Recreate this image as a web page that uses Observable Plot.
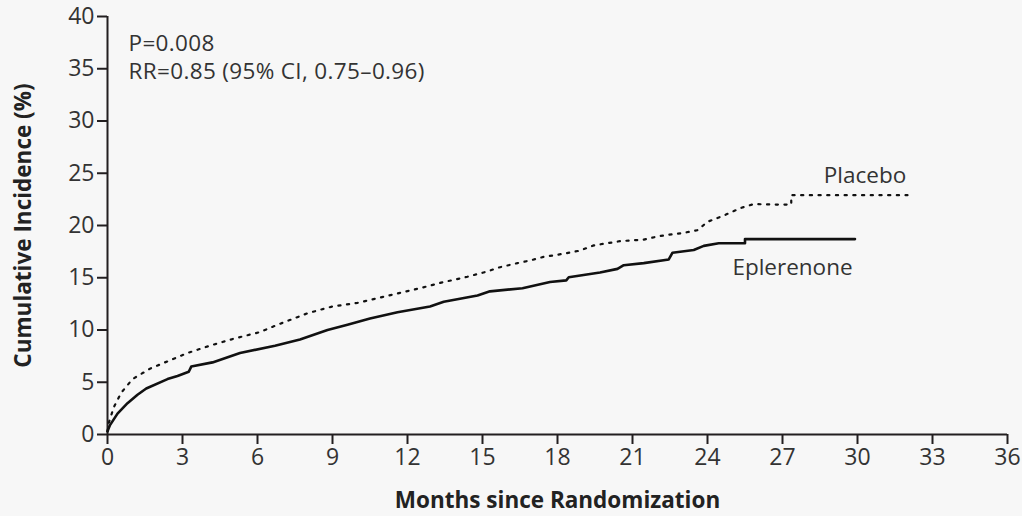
<!DOCTYPE html>
<html>
<head>
<meta charset="utf-8">
<script src="https://cdn.jsdelivr.net/npm/d3@7"></script>
<script src="https://cdn.jsdelivr.net/npm/@observablehq/plot@0.6"></script>
<style>
  html, body { margin: 0; padding: 0; background: #f7f7f7; }
  #chart svg { background: #f7f7f7; font-family: "Open Sans", "Noto Sans", sans-serif; }
  #chart svg [aria-label="x-axis label"] text,
  #chart svg [aria-label="y-axis label"] text { font-weight: bold; font-size: 22.5px; fill: #222; }
  #chart svg .stat-note text { letter-spacing: 0.35px; }
</style>
</head>
<body>
<div id="chart"></div>
<script>
// Cumulative incidence (%) by months since randomization
const eplerenoneMonths = [0, 0.1, 0.4, 0.8, 1.2, 1.55, 2.4, 2.8, 3.25, 3.35, 4.2, 5.3, 6.7, 7.7, 8.8, 9.6, 10.5, 11.6, 12.9, 13.45, 14.8, 15.3, 16.6, 17.7, 18.35, 18.45, 19.7, 20.4, 20.65, 21.45, 22.45, 22.6, 23.45, 23.85, 24.45, 25.5, 25.5, 29.9];
const eplerenoneValues = [0.3, 0.9, 2.0, 3.0, 3.8, 4.4, 5.3, 5.6, 6.0, 6.5, 6.9, 7.8, 8.5, 9.1, 10.0, 10.5, 11.1, 11.7, 12.25, 12.7, 13.3, 13.7, 14.0, 14.6, 14.75, 15.05, 15.5, 15.85, 16.2, 16.4, 16.75, 17.4, 17.65, 18.05, 18.3, 18.3, 18.7, 18.7];

const placeboMonths = [0, 0.05, 0.25, 0.55, 1.0, 1.7, 2.4, 3.2, 4.1, 5.1, 6.1, 6.8, 8.0, 9.0, 10.0, 10.9, 11.6, 12.5, 13.3, 14.4, 15.2, 15.6, 16.4, 16.9, 17.45, 18.25, 18.9, 19.45, 20.5, 21.45, 22.1, 23.05, 23.6, 24.0, 24.65, 25.3, 25.85, 26.8, 27.35, 27.35, 32.0];
const placeboValues = [0.3, 1.1, 2.6, 4.0, 5.3, 6.3, 7.0, 7.8, 8.5, 9.2, 9.8, 10.5, 11.6, 12.25, 12.6, 13.1, 13.5, 14.0, 14.5, 15.1, 15.6, 15.95, 16.4, 16.65, 17.0, 17.3, 17.6, 18.1, 18.5, 18.65, 19.0, 19.3, 19.55, 20.35, 20.95, 21.65, 22.05, 22.0, 22.0, 22.9, 22.9];

const xTicks = [0, 3, 6, 9, 12, 15, 18, 21, 24, 27, 30, 33, 36];
const yTicks = [0, 5, 10, 15, 20, 25, 30, 35, 40];

const seriesNames = ["Placebo", "Eplerenone"];
const labelMonths = [30.3, 27.4];
const labelValues = [24.8, 16.0];

const statLines = ["P=0.008", "RR=0.85 (95% CI, 0.75\u20130.96)"];

const toRows = (ms, vs) => ms.map((m, i) => ({month: m, value: vs[i]}));
const eplerenone = toRows(eplerenoneMonths, eplerenoneValues);
const placebo = toRows(placeboMonths, placeboValues);
const seriesLabels = seriesNames.map((name, i) => ({name, month: labelMonths[i], value: labelValues[i]}));

const ink = "#231f20";
const noteStyle = {frameAnchor: "top-left", dx: 21, lineAnchor: "top", fontSize: 22.5, fill: "#333", className: "stat-note"};

const chart = Plot.plot({
  width: 1022,
  height: 516,
  marginLeft: 107,
  marginRight: 15,
  marginTop: 16,
  marginBottom: 82,
  style: {background: "#f7f7f7", fontFamily: "'Open Sans', 'Noto Sans', sans-serif"},
  x: {domain: [0, 36]},
  y: {domain: [0, 40]},
  marks: [
    Plot.axisX({ticks: xTicks, tickSize: 10, tickPadding: 4, fontSize: 23, stroke: ink, strokeWidth: 2, color: "#333",
      label: "Months since Randomization", labelAnchor: "center", labelArrow: "none", labelOffset: 73}),
    Plot.axisY({ticks: yTicks, tickSize: 10, tickPadding: 3, fontSize: 23, stroke: ink, strokeWidth: 2, color: "#333",
      label: "Cumulative Incidence (%)", labelAnchor: "center", labelArrow: "none", labelOffset: 92}),
    Plot.ruleX([0], {stroke: ink, strokeWidth: 2}),
    Plot.ruleY([0], {stroke: ink, strokeWidth: 2}),
    Plot.line(placebo, {x: "month", y: "value", stroke: "#111", strokeWidth: 2.2, strokeDasharray: "2.2,6.5"}),
    Plot.line(eplerenone, {x: "month", y: "value", stroke: "#111", strokeWidth: 2.6}),
    Plot.text(seriesLabels, {x: "month", y: "value", text: "name", fontSize: 22.5, fill: "#333"}),
    // two-line statistics note, one text per line
    Plot.text([statLines[0]], {...noteStyle, dy: 19}),
    Plot.text([statLines[1]], {...noteStyle, dy: 47})
  ]
});

document.getElementById("chart").append(chart);
</script>
</body>
</html>
